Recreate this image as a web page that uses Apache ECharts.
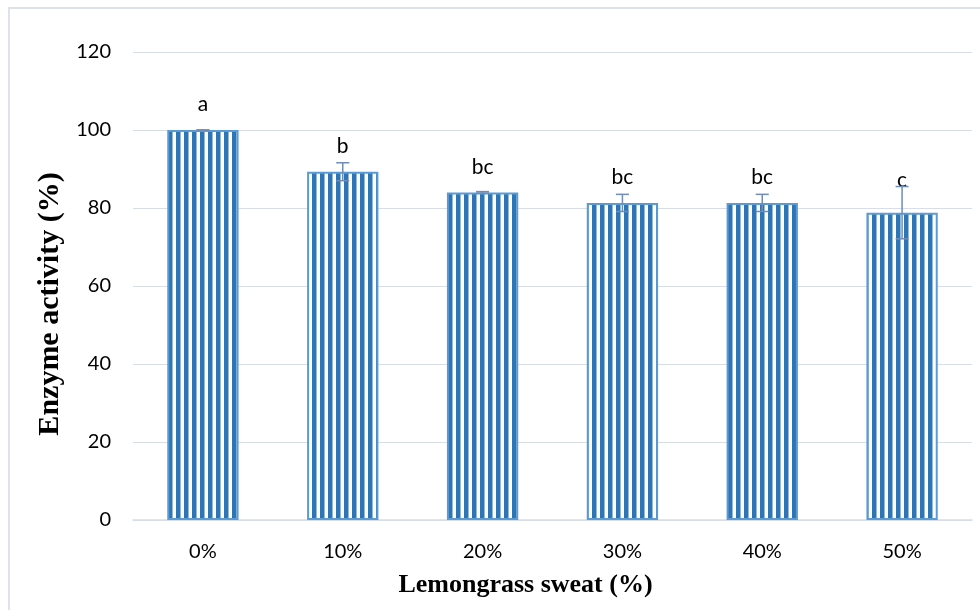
<!DOCTYPE html>
<html>
<head>
<meta charset="utf-8">
<script src="https://cdn.jsdelivr.net/npm/echarts@6/dist/echarts.min.js"></script>
<style>
html,body{margin:0;padding:0;background:#fff;}
#chart{width:980px;height:610px;}
</style>
</head>
<body>
<div id="chart"></div>
<script>
const categories = ['0%', '10%', '20%', '30%', '40%', '50%'];
const activity = [100, 89.3, 84.0, 81.3, 81.3, 78.8];
const errors = [0, 2.3, 0.2, 2.2, 2.2, 6.7];
const letters = ['a', 'b', 'bc', 'bc', 'bc', 'c'];
const yTicks = [0, 20, 40, 60, 80, 100, 120];

// vertical stripe pattern
const pc = document.createElement('canvas');
pc.width = 8; pc.height = 8;
const pctx = pc.getContext('2d');
pctx.fillStyle = '#ffffff';
pctx.fillRect(0, 0, 8, 8);
pctx.fillStyle = '#2E75B6';
pctx.fillRect(0, 0, 4.5, 8);

const chart = echarts.init(document.getElementById('chart'), null, {renderer: 'canvas'});

const barData = activity.map((v, i) => ({
  value: v,
  label: {distance: i === 5 ? 22 : 15}
}));

const errData = activity.map((v, i) => [i, v - errors[i], v + errors[i]]);

chart.setOption({
  animation: false,
  backgroundColor: '#ffffff',
  graphic: [{
    type: 'rect',
    shape: {x: 9, y: 8, width: 1000, height: 700},
    style: {fill: 'none', stroke: '#DEE2EA', lineWidth: 2},
    silent: true,
    z: -10
  }],
  grid: {left: 133, right: 8, top: 52, bottom: 90, containLabel: false},
  xAxis: {
    type: 'category',
    data: categories,
    name: 'Lemongrass sweat (%)',
    nameLocation: 'middle',
    nameGap: 52,
    nameTextStyle: {fontFamily: 'Liberation Serif', fontWeight: 'bold', fontSize: 26, color: '#000', padding: [0, 54, 0, 0]},
    axisLine: {show: true, lineStyle: {color: '#D9DDE6', width: 1.5}},
    axisTick: {show: false},
    axisLabel: {fontFamily: 'Lato', fontSize: 20, color: '#000', margin: 22}
  },
  yAxis: {
    type: 'value',
    min: yTicks[0],
    max: yTicks[yTicks.length - 1],
    interval: yTicks[1] - yTicks[0],
    name: 'Enzyme activity (%)',
    nameLocation: 'middle',
    nameGap: 64,
    nameTextStyle: {fontFamily: 'Liberation Serif', fontWeight: 'bold', fontSize: 30, color: '#000', padding: [0, 36, 0, 0]},
    axisLine: {show: false},
    axisTick: {show: false},
    splitLine: {lineStyle: {color: '#D9DDE6', width: 1.2}},
    axisLabel: {fontFamily: 'Lato', fontSize: 20, color: '#000', margin: 22}
  },
  series: [{
    type: 'bar',
    data: barData,
    barWidth: '51%',
    itemStyle: {
      color: {image: pc, repeat: 'repeat'},
      borderColor: '#5B9BD5',
      borderWidth: 2
    },
    label: {
      show: true,
      position: 'top',
      formatter: p => letters[p.dataIndex],
      fontFamily: 'Lato',
      fontSize: 21,
      color: '#000'
    },
    z: 2
  }, {
    type: 'custom',
    data: errData,
    z: 5,
    renderItem: function (params, api) {
      const i = api.value(0);
      const lo = api.coord([i, api.value(1)]);
      const hi = api.coord([i, api.value(2)]);
      const hw = 6.5;
      const st = {stroke: '#6F8DB5', lineWidth: 1.5};
      return {
        type: 'group',
        children: [
          {type: 'line', shape: {x1: lo[0], y1: lo[1], x2: hi[0], y2: hi[1]}, style: st},
          {type: 'line', shape: {x1: hi[0] - hw, y1: hi[1], x2: hi[0] + hw, y2: hi[1]}, style: st},
          {type: 'line', shape: {x1: lo[0] - hw, y1: lo[1], x2: lo[0] + hw, y2: lo[1]}, style: st}
        ]
      };
    }
  }]
});
</script>
</body>
</html>
